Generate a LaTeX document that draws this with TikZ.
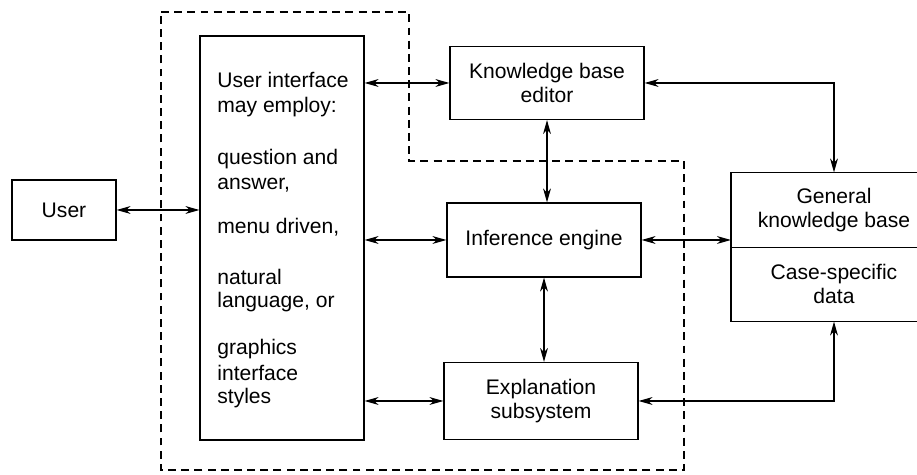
\documentclass[tikz,border=0pt]{standalone}
\usepackage{fontspec}
\setmainfont{Liberation Sans}
\usetikzlibrary{arrows.meta}

\begin{document}
\begin{tikzpicture}[
    x=0.02cm, y=-0.02cm,
    >={Stealth[length=8pt,width=4.5pt]},
    font=\fontsize{12}{14}\selectfont,
    link/.style={<->,line width=0.6pt},
    box/.style={rectangle,draw,line width=0.7pt,align=center,minimum width=3.88cm,minimum height=1.48cm,inner sep=2pt},
    kbpart/.style={box,draw=none,minimum width=4.1cm},
    uitext/.style={anchor=base west,inner sep=0pt},
    boundary/.style={line width=0.7pt,dash pattern=on 4.5pt off 3pt}
]

\useasboundingbox (0,0) rectangle (917,475);

% System boundary
\draw[boundary] (161,12) -- (409,12) -- (409,161) -- (684,161) -- (684,470) -- (161,470) -- cycle;

% Boxes
\node[box,minimum width=2.08cm,minimum height=1.2cm] (user) at (64,210) {User};
\node[box,minimum width=3.28cm,minimum height=8.08cm] (ui) at (282,238) {};
\node[box,minimum height=1.46cm] (kbe) at (547,83) {Knowledge base\\editor};
\node[box] (inf) at (544,240) {Inference engine};
\node[box,minimum height=1.54cm] (expl) at (541,401) {Explanation\\subsystem};
\node[kbpart] (kbgen) at (834,210) {General\\knowledge base};
\node[kbpart] (kbcase) at (834,284) {Case-specific\\data};

% Knowledge base box, running off the page on the right
\draw[line width=0.7pt] (kbgen.north east) -- (kbgen.north west) -- (kbcase.south west) -- (kbcase.south east);
\draw[line width=0.7pt] (kbgen.south west) -- (kbgen.south east);

% User interface text
\node[uitext] (ui1) at (217,88) {User interface};
\node[uitext] (ui2) at (217,113) {may employ:};
\node[uitext] (ui3) at (217,165) {question and};
\node[uitext] (ui4) at (217,190) {answer,};
\node[uitext] (ui5) at (217,234) {menu driven,};
\node[uitext] (ui6) at (217,285) {natural};
\node[uitext] (ui7) at (217,308) {language, or};
\node[uitext] (ui8) at (217,355) {graphics};
\node[uitext] (ui9) at (217,381) {interface};
\node[uitext] (ui10) at (217,404) {styles};

% Links
\draw[link] (user.east) -- (user.east -| ui.west);
\draw[link] (kbe.west -| ui.east) -- (kbe.west);
\draw[link] (inf.west -| ui.east) -- (inf.west);
\draw[link] (expl.west -| ui.east) -- (expl.west);
\draw[link] (kbe.south) -- (kbe.south |- inf.north);
\draw[link] (inf.south) -- (inf.south |- expl.north);
\draw[link] (inf.east) -- (inf.east -| kbgen.west);
\draw[link] (kbe.east) -- (kbe.east -| kbgen.north) -- (kbgen.north);
\draw[link] (expl.east) -- (expl.east -| kbcase.south) -- (kbcase.south);

\end{tikzpicture}
\end{document}
